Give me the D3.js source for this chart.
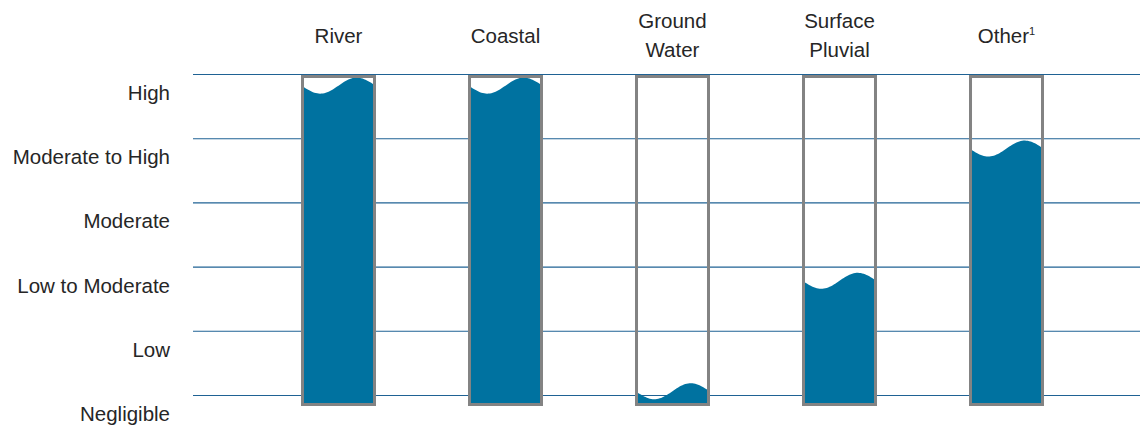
<!DOCTYPE html>
<html>
<head>
<meta charset="utf-8">
<script src="https://cdn.jsdelivr.net/npm/d3@7"></script>
<style>
  html, body { margin: 0; padding: 0; background: #ffffff; }
  svg { display: block; }
  text { font-family: "Liberation Sans", Arial, Helvetica, sans-serif; fill: #262626; }
</style>
</head>
<body>
<svg id="chart" width="1140" height="426"></svg>
<script>
// ---- data ----
const categories = ["River", "Coastal", "Ground\nWater", "Surface\nPluvial", "Other"];
const footnotes = ["", "", "", "", "1"];
const levelLabels = ["Negligible", "Low", "Low to Moderate", "Moderate", "Moderate to High", "High"];
// water crest level, in level units (0 = Negligible ... 5 = High)
const waterLevels = [4.92, 4.92, 0.16, 1.88, 3.94];

// ---- layout ----
const W = 1140, H = 426;
const svg = d3.select("#chart");

const y = d3.scaleLinear().domain([0, 5]).range([395, 74]);
const x = d3.scaleBand().domain(categories).range([255, 1090]).paddingInner(0.551).paddingOuter(0.2755);

const gridColor = "#1f6294";
const waterColor = "#0072a0";
const boxColor = "#838383";
const fs = 20.5;

// gridlines
svg.append("g").selectAll("line")
  .data(d3.range(levelLabels.length))
  .join("line")
  .attr("x1", 193).attr("x2", W)
  .attr("y1", d => y(d) + 0.5).attr("y2", d => y(d) + 0.5)
  .attr("stroke", gridColor).attr("stroke-width", 1.1);

// level labels
svg.append("g").selectAll("text")
  .data(levelLabels)
  .join("text")
  .attr("x", 170)
  .attr("y", (d, i) => y(i) + 26)
  .attr("text-anchor", "end")
  .attr("font-size", fs)
  .text(d => d);

// column labels
const colG = svg.append("g");
categories.forEach((c, i) => {
  const lines = c.split("\n");
  const cx = x(c) + x.bandwidth() / 2;
  const t = colG.append("text").attr("text-anchor", "middle").attr("font-size", fs);
  if (lines.length === 1) {
    t.attr("x", cx).attr("y", 43);
    t.append("tspan").text(lines[0]);
    if (footnotes[i]) {
      t.append("tspan").attr("font-size", 11).attr("dy", -8).text(footnotes[i]);
    }
  } else {
    lines.forEach((l, j) => {
      t.append("tspan").attr("x", cx).attr("y", 28 + j * 29).text(l);
    });
  }
});

// boxes with water
const boxTop = y(5) + 2.5;
const boxBottom = y(0) + 9.5;
const sw = 3;
const defs = svg.append("defs");

categories.forEach((c, i) => {
  const x0 = x(c) + 1.5, bw = x.bandwidth() - 3;
  const innerX0 = x0 + sw / 2, innerX1 = x0 + bw - sw / 2;
  const innerTop = boxTop + sw / 2, innerBottom = boxBottom - sw / 2;

  defs.append("clipPath").attr("id", "clip" + i)
    .append("rect")
    .attr("x", innerX0).attr("y", innerTop)
    .attr("width", innerX1 - innerX0).attr("height", innerBottom - innerTop);

  const crest = y(waterLevels[i]);
  const pts = d3.range(0, 1.0001, 0.02).map(t => [
    innerX0 - 1 + t * (innerX1 - innerX0 + 2),
    crest + 7.5 + 7.5 * Math.sin(2 * Math.PI * t) - 2 * t
  ]);
  pts.push([innerX1 + 1, innerBottom + 1], [innerX0 - 1, innerBottom + 1]);

  svg.append("path")
    .attr("d", d3.line()(pts) + "Z")
    .attr("fill", waterColor)
    .attr("clip-path", `url(#clip${i})`);

  svg.append("rect")
    .attr("x", x0).attr("y", boxTop)
    .attr("width", bw).attr("height", boxBottom - boxTop)
    .attr("fill", "none")
    .attr("stroke", boxColor).attr("stroke-width", sw);
});
</script>
</body>
</html>
